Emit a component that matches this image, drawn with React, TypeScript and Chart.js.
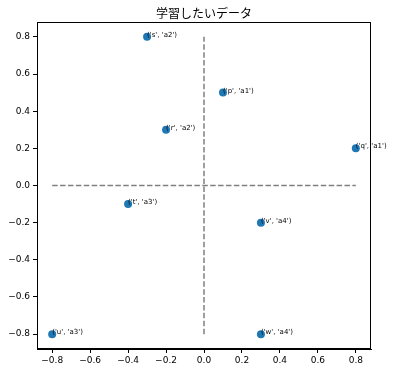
import React, { useEffect, useRef } from "react";
import { Chart, registerables } from "chart.js";

Chart.register(...registerables);

const pointLabels = ["('p', 'a1')", "('q', 'a1')", "('r', 'a2')", "('s', 'a2')", "('t', 'a3')", "('u', 'a3')", "('v', 'a4')", "('w', 'a4')"];
const xValues = [0.1, 0.8, -0.2, -0.3, -0.4, -0.8, 0.3, 0.3];
const yValues = [0.5, 0.2, 0.3, 0.8, -0.1, -0.8, -0.2, -0.8];
const tickValues = [-0.8, -0.6, -0.4, -0.2, 0.0, 0.2, 0.4, 0.6, 0.8];
const axisMin = -0.88;
const axisMax = 0.88;
const guideMin = -0.8;
const guideMax = 0.8;
const titleText = "学習したいデータ";

const fmt = (v: number) => {
  if (Math.abs(v) < 1e-9) return "0.0";
  return (v < 0 ? "\u2212" : "") + Math.abs(v).toFixed(1);
};

export default function App() {
  const ref = useRef<HTMLCanvasElement | null>(null);
  useEffect(() => {
    if (!ref.current) return;
    const framePlugin = {
      id: "frameAndLabels",
      afterDatasetsDraw(chart: any) {
        const { ctx, chartArea } = chart;
        ctx.save();
        ctx.strokeStyle = "#000";
        ctx.lineWidth = 1;
        ctx.strokeRect(
          Math.round(chartArea.left) + 0.5,
          Math.round(chartArea.top) + 0.5,
          Math.round(chartArea.right - chartArea.left) - 1,
          Math.round(chartArea.bottom - chartArea.top) - 1
        );
        const meta = chart.getDatasetMeta(2);
        ctx.fillStyle = "#000";
        ctx.font = "7px 'DejaVu Sans'";
        ctx.textAlign = "left";
        ctx.textBaseline = "alphabetic";
        meta.data.forEach((el: any, i: number) => {
          ctx.fillText(pointLabels[i], el.x, el.y);
        });
        ctx.font = "12px 'Noto Sans CJK JP'";
        ctx.textAlign = "center";
        ctx.textBaseline = "middle";
        ctx.fillText(titleText, (chartArea.left + chartArea.right) / 2, 13);
        ctx.restore();
      },
    };
    const tickFont = { family: "'DejaVu Sans'", size: 9 };
    const chart = new Chart(ref.current, {
      type: "scatter",
      data: {
        datasets: [
          {
            type: "line",
            data: [
              { x: 0, y: guideMin },
              { x: 0, y: guideMax },
            ],
            showLine: true,
            borderColor: "#808080",
            borderWidth: 1.5,
            borderDash: [5.5, 2.4],
            pointRadius: 0,
            fill: false,
          } as any,
          {
            type: "line",
            data: [
              { x: guideMin, y: 0 },
              { x: guideMax, y: 0 },
            ],
            showLine: true,
            borderColor: "#808080",
            borderWidth: 1.5,
            borderDash: [5.5, 2.4],
            pointRadius: 0,
            fill: false,
          } as any,
          {
            data: xValues.map((x, i) => ({ x, y: yValues[i] })),
            backgroundColor: "#1f77b4",
            borderColor: "#1f77b4",
            pointRadius: 4,
            borderWidth: 0,
          },
        ],
      },
      options: {
        responsive: false,
        animation: false,
        layout: { padding: { left: 0, right: 23, top: 22, bottom: 0 } },
        plugins: {
          legend: { display: false },
          tooltip: { enabled: false },
          title: { display: false },
        },
        scales: {
          x: {
            type: "linear",
            min: axisMin,
            max: axisMax,
            afterBuildTicks: (s: any) => {
              s.ticks = tickValues.map((v) => ({ value: v }));
            },
            afterFit: (s: any) => {
              s.height = 23;
            },
            grid: { drawOnChartArea: false, drawTicks: true, tickLength: 4, color: "#000" },
            border: { display: true, color: "#000" },
            ticks: { color: "#000", font: tickFont, padding: 2, callback: (v: any) => fmt(Number(v)), maxRotation: 0, autoSkip: false },
          },
          y: {
            type: "linear",
            min: axisMin,
            max: axisMax,
            afterBuildTicks: (s: any) => {
              s.ticks = tickValues.map((v) => ({ value: v }));
            },
            afterFit: (s: any) => {
              s.width = 37;
            },
            grid: { drawOnChartArea: false, drawTicks: true, tickLength: 4, color: "#000" },
            border: { display: true, color: "#000" },
            ticks: { color: "#000", font: tickFont, padding: 3, callback: (v: any) => fmt(Number(v)), autoSkip: false },
          },
        },
      } as any,
      plugins: [framePlugin],
    });
    return () => chart.destroy();
  }, []);
  return (
    <div style={{ position: "absolute", left: 0, top: 0, width: 394, height: 372, background: "#fff" }}>
      <canvas ref={ref} width={394} height={372} style={{ width: 394, height: 372 }} />
    </div>
  );
}
